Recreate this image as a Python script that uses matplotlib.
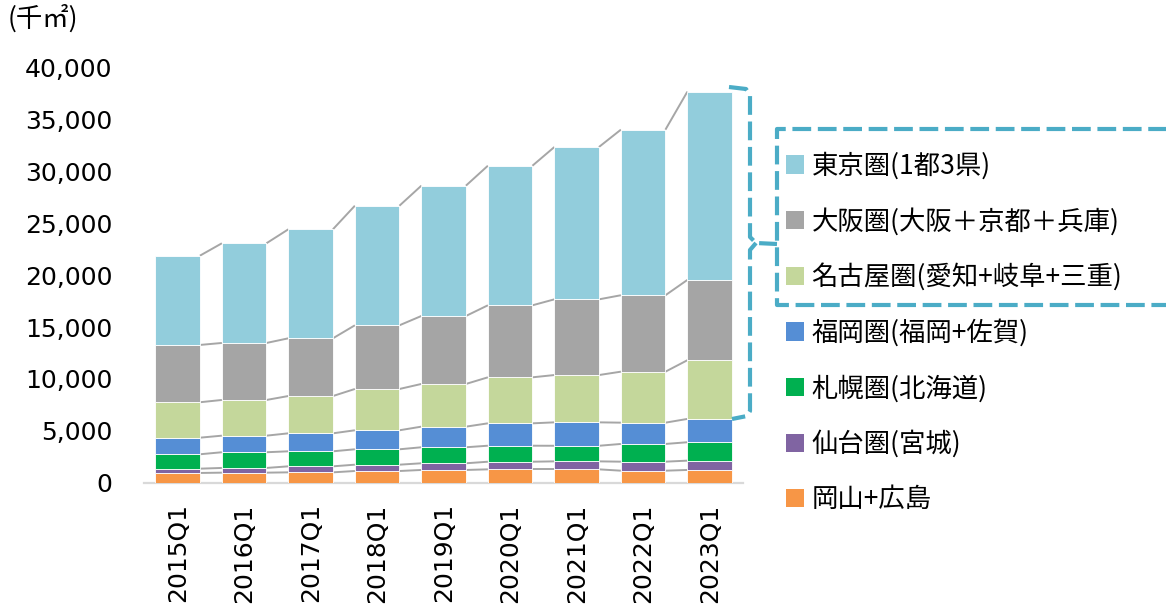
import numpy as np
import matplotlib
matplotlib.use("Agg")
import matplotlib.pyplot as plt
from matplotlib.lines import Line2D
from matplotlib.patches import Patch
from matplotlib.ticker import FuncFormatter

plt.rcParams["font.family"] = ["DejaVu Sans", "Noto Sans CJK JP"]

# ─── data (千㎡) ──────────────────────────────────────────────────────────────
quarters = ["2015Q1", "2016Q1", "2017Q1", "2018Q1", "2019Q1",
            "2020Q1", "2021Q1", "2022Q1", "2023Q1"]
okayama_hiroshima = [920, 950, 980, 1110, 1210, 1270, 1270, 1140, 1210]
sendai = [415, 455, 580, 610, 645, 735, 770, 870, 900]
sapporo = [1390, 1515, 1450, 1485, 1545, 1545, 1505, 1710, 1775]
fukuoka = [1600, 1600, 1735, 1835, 1990, 2160, 2260, 2055, 2250]
nagoya = [3420, 3445, 3600, 3985, 4120, 4440, 4565, 4920, 5665]
osaka = [5530, 5500, 5570, 6145, 6560, 6950, 7305, 7375, 7750]
tokyo = [8615, 9620, 10520, 11540, 12575, 13470, 14700, 15980, 18170]

series_labels = ["岡山+広島", "仙台圏(宮城)", "札幌圏(北海道)", "福岡圏(福岡+佐賀)",
                 "名古屋圏(愛知+岐阜+三重)", "大阪圏(大阪＋京都＋兵庫)", "東京圏(1都3県)"]
series_values = [okayama_hiroshima, sendai, sapporo, fukuoka, nagoya, osaka, tokyo]
series_colors = ["#F79646", "#8064A2", "#00B050", "#558ED5",
                 "#C4D79B", "#A5A5A5", "#92CDDC"]

# ─── figure ──────────────────────────────────────────────────────────────────
W, H = 1166, 605
fig = plt.figure(figsize=(W / 100, H / 100), dpi=100)
ax = fig.add_axes([144.4 / W, 1 - 482.5 / H, 598.5 / W, 414.5 / H])

x = np.arange(len(quarters))
bw = 0.67
bottom = np.zeros(len(quarters))
for vals, col in zip(series_values, series_colors):
    vals = np.array(vals, dtype=float)
    ax.bar(x, vals, bw, bottom=bottom, color=col, edgecolor="white",
           linewidth=0.6, zorder=3)
    top = bottom + vals
    # series lines between adjacent bars
    for i in range(len(x) - 1):
        ax.plot([x[i] + bw / 2, x[i + 1] - bw / 2], [top[i], top[i + 1]],
                color="#A6A6A6", lw=1.4, zorder=2, solid_capstyle="butt")
    bottom = top

ax.set_xlim(-0.5, len(quarters) - 0.5)
ax.set_ylim(0, 40000)
ax.set_yticks(np.arange(0, 40001, 5000))
ax.yaxis.set_major_formatter(FuncFormatter(lambda v, p: f"{int(v):,}"))
ax.set_xticks(x)
ax.set_xticklabels(quarters, rotation=90, va="top", ha="center")
ax.tick_params(axis="y", length=0, pad=23, labelsize=18)
ax.tick_params(axis="x", length=0, pad=15, labelsize=18)
for side in ["left", "right", "top"]:
    ax.spines[side].set_visible(False)
ax.spines["bottom"].set_color("#D9D9D9")
ax.spines["bottom"].set_linewidth(1.6)
ax.set_facecolor("none")

fig.text(8 / W, 1 - 19 / H, "(千㎡)", fontsize=19, va="center", ha="left",
         family=["Noto Sans CJK JP", "DejaVu Sans"])

# ─── legend ──────────────────────────────────────────────────────────────────
handles = [Patch(facecolor=c, edgecolor="none") for c in series_colors][::-1]
labels = series_labels[::-1]
leg = fig.legend(handles, labels, loc="upper left",
                 bbox_to_anchor=(786 / W, 1 - 152 / H),
                 frameon=False, borderpad=0, borderaxespad=0,
                 handlelength=0.7, handleheight=0.7, handletextpad=0.27,
                 labelspacing=1.06,
                 prop={"family": ["Noto Sans CJK JP", "DejaVu Sans"], "size": 19})


# ─── dashed brace + box ──────────────────────────────────────────────────────
def px(pts):
    xs = [p[0] / W for p in pts]
    ys = [1 - p[1] / H for p in pts]
    return xs, ys


dash_col = "#4BACC6"
dash_kw = dict(color=dash_col, lw=3.0, linestyle=(0, (4.5, 1.6)),
               transform=fig.transFigure, solid_capstyle="butt",
               dash_capstyle="butt", solid_joinstyle="round")

brace_top = [(729, 87), (746, 89), (750, 95), (750, 237), (756, 243), (777, 244)]
brace_bot = [(756, 243), (750, 250), (750, 411), (747, 416), (732, 419)]
box = [(1180, 129), (777, 129), (777, 305), (1180, 305)]
for pts in (brace_top, brace_bot, box):
    xs, ys = px(pts)
    fig.add_artist(Line2D(xs, ys, **dash_kw))

fig.savefig("out.png", dpi=100)
